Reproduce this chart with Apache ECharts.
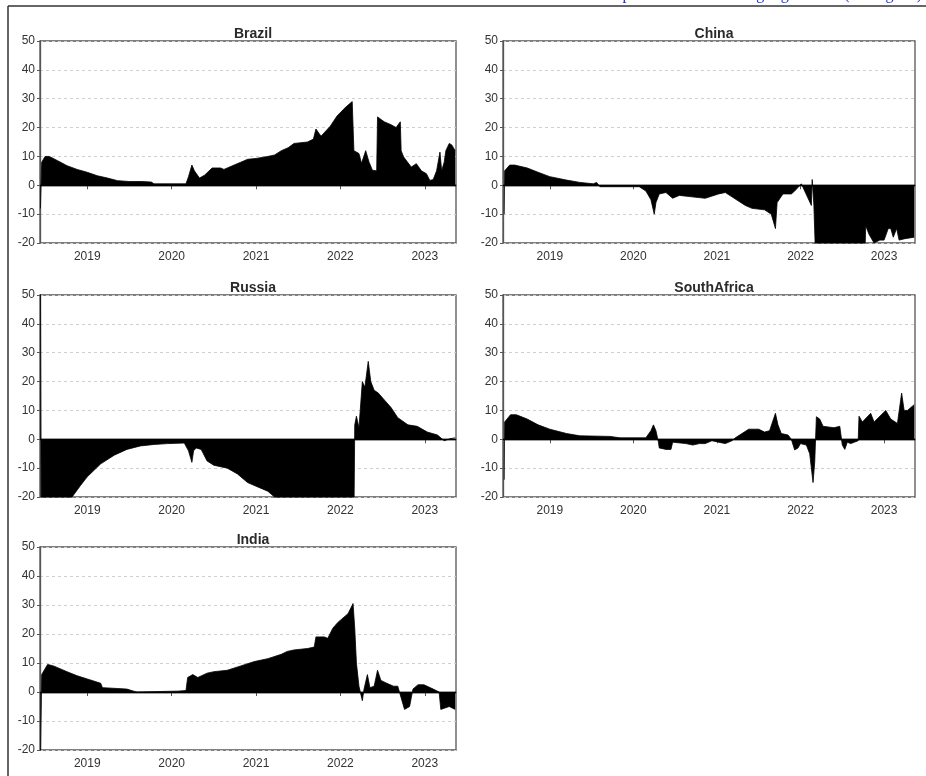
<!DOCTYPE html>
<html>
<head>
<meta charset="utf-8">
<script src="https://cdn.jsdelivr.net/npm/echarts@6/dist/echarts.min.js"></script>
<style>
  html, body { margin: 0; padding: 0; background: #fff; }
  #main { width: 926px; height: 776px; }
</style>
</head>
<body>
<div id="main"></div>
<script>
// [year, value] pairs
var brazil = [
  [2018.445, -8], [2018.46, 8], [2018.5, 10], [2018.55, 10], [2018.65, 8.5], [2018.76, 6.8],
  [2018.88, 5.5], [2019.0, 4.5], [2019.12, 3.3], [2019.24, 2.5], [2019.36, 1.6], [2019.5, 1.3],
  [2019.65, 1.3], [2019.76, 1.1], [2019.79, 0.5], [2020.17, 0.5], [2020.2, 3], [2020.24, 7],
  [2020.27, 5], [2020.33, 2.5], [2020.39, 3.5], [2020.48, 6], [2020.58, 6], [2020.62, 5.5],
  [2020.74, 7], [2020.82, 8], [2020.9, 9], [2021.0, 9.3], [2021.14, 10], [2021.22, 10.5],
  [2021.3, 12], [2021.38, 13], [2021.45, 14.5], [2021.61, 15], [2021.68, 16], [2021.71, 19.5],
  [2021.77, 17], [2021.88, 20.5], [2021.96, 24], [2022.06, 27], [2022.14, 29], [2022.16, 12],
  [2022.22, 11], [2022.25, 7.6], [2022.3, 12], [2022.34, 8], [2022.38, 5.2], [2022.43, 5],
  [2022.44, 23.7], [2022.52, 22], [2022.6, 21], [2022.66, 20], [2022.71, 22], [2022.72, 12],
  [2022.75, 9.8], [2022.84, 6.3], [2022.9, 7.5], [2022.96, 5], [2023.02, 4], [2023.06, 1.7],
  [2023.1, 2], [2023.14, 5], [2023.18, 11.5], [2023.2, 5], [2023.23, 8], [2023.25, 12],
  [2023.29, 14.5], [2023.32, 14], [2023.36, 12]
];
var china = [
  [2018.455, -10], [2018.46, 5], [2018.52, 7], [2018.58, 7], [2018.73, 6], [2018.86, 4.5],
  [2019.0, 3], [2019.2, 1.8], [2019.36, 1], [2019.52, 0.5], [2019.56, 1], [2019.6, -0.5],
  [2020.07, -0.5], [2020.15, -2], [2020.21, -5], [2020.25, -10], [2020.27, -6], [2020.31, -3],
  [2020.39, -2.5], [2020.47, -4.5], [2020.55, -3.5], [2020.7, -4], [2020.86, -4.5], [2021.02, -3],
  [2021.1, -2.5], [2021.18, -4], [2021.34, -7], [2021.42, -8], [2021.57, -8.5], [2021.65, -10],
  [2021.7, -15], [2021.72, -6], [2021.79, -3], [2021.89, -3], [2021.93, -2], [2022.01, 0.5],
  [2022.05, -2], [2022.13, -7], [2022.14, 2], [2022.16, -7], [2022.18, -25], [2022.77, -25],
  [2022.78, -14], [2022.82, -17], [2022.88, -20], [2022.95, -19], [2023.0, -19], [2023.05, -15],
  [2023.08, -15], [2023.11, -18], [2023.15, -15], [2023.18, -19], [2023.25, -18.5], [2023.36, -18]
];
var russia = [
  [2018.445, 60], [2018.455, -30], [2018.8, -30], [2018.82, -20], [2018.92, -16], [2019.0, -13],
  [2019.16, -8.5], [2019.32, -5.5], [2019.47, -3.5], [2019.63, -2.3], [2019.79, -1.8], [2019.95, -1.5],
  [2020.15, -1.3], [2020.2, -4], [2020.24, -8], [2020.26, -4], [2020.29, -3], [2020.35, -3.5],
  [2020.42, -7.5], [2020.5, -9], [2020.66, -10], [2020.78, -12], [2020.9, -15], [2021.02, -16.5],
  [2021.14, -18], [2021.22, -20], [2021.25, -30], [2022.16, -30], [2022.17, 5], [2022.19, 8],
  [2022.22, 4], [2022.26, 20], [2022.29, 18], [2022.33, 27], [2022.36, 20], [2022.4, 17],
  [2022.45, 16], [2022.51, 14], [2022.6, 11], [2022.68, 7.5], [2022.8, 5], [2022.91, 4.5],
  [2023.03, 2.5], [2023.15, 1.5], [2023.23, -0.5], [2023.3, 0.2], [2023.36, 0.5]
];
var southAfrica = [
  [2018.455, -14], [2018.46, 6], [2018.53, 8.5], [2018.6, 8.5], [2018.73, 7], [2018.86, 5],
  [2019.0, 3.5], [2019.2, 2], [2019.36, 1.2], [2019.72, 1], [2019.84, 0.5], [2020.15, 0.5],
  [2020.21, 3], [2020.24, 5], [2020.27, 3], [2020.3, -1], [2020.31, -3], [2020.39, -3.5],
  [2020.45, -3.5], [2020.47, -1], [2020.63, -1.5], [2020.71, -2], [2020.79, -1.5], [2020.86, -1.5],
  [2020.94, -0.5], [2021.02, -1], [2021.1, -1.5], [2021.18, -0.5], [2021.22, 0.5], [2021.3, 2],
  [2021.38, 3.5], [2021.5, 3.5], [2021.57, 2.5], [2021.63, 3], [2021.7, 9], [2021.73, 5],
  [2021.77, 2], [2021.85, 1.5], [2021.89, 0], [2021.93, -3.7], [2021.97, -3], [2022.0, -1.5],
  [2022.07, -2], [2022.11, -5], [2022.15, -15], [2022.17, -8], [2022.19, 7.8], [2022.23, 7],
  [2022.27, 4.5], [2022.4, 4], [2022.47, 4.5], [2022.5, -2], [2022.53, -3.5], [2022.56, -1],
  [2022.6, -1.5], [2022.69, -0.5], [2022.7, 8], [2022.74, 6], [2022.84, 9], [2022.88, 6],
  [2023.02, 10], [2023.08, 7], [2023.16, 5.5], [2023.21, 16], [2023.24, 10], [2023.28, 10],
  [2023.32, 11], [2023.36, 12]
];
var india = [
  [2018.445, -25], [2018.46, 6], [2018.53, 9.5], [2018.6, 9], [2018.76, 7], [2018.88, 5.6],
  [2019.0, 4.5], [2019.16, 3], [2019.18, 1.5], [2019.36, 1.2], [2019.47, 1], [2019.55, 0.3],
  [2019.59, 0], [2020.07, 0.3], [2020.17, 0.5], [2020.19, 5], [2020.25, 6], [2020.31, 5],
  [2020.42, 6.5], [2020.5, 7], [2020.66, 7.5], [2020.82, 9], [2020.98, 10.5], [2021.14, 11.5],
  [2021.3, 13], [2021.37, 14], [2021.45, 14.5], [2021.61, 15], [2021.69, 15.5], [2021.71, 19],
  [2021.81, 19], [2021.85, 18.5], [2021.91, 22], [2021.97, 24], [2022.09, 27], [2022.15, 30.5],
  [2022.17, 22], [2022.19, 10], [2022.22, 2], [2022.26, -3], [2022.28, 1], [2022.32, 6],
  [2022.35, 1.5], [2022.4, 2], [2022.44, 7.5], [2022.48, 4], [2022.55, 3], [2022.63, 2],
  [2022.68, 2], [2022.71, -1], [2022.76, -6], [2022.82, -5], [2022.84, -2], [2022.86, 1],
  [2022.92, 2.5], [2022.99, 2.5], [2023.1, 1], [2023.17, 0], [2023.19, -6], [2023.29, -5],
  [2023.36, -6]
];

var panelNames = ['Brazil', 'China', 'Russia', 'SouthAfrica', 'India'];
var panelData = [brazil, china, russia, southAfrica, india];
var yearTicks = [2019, 2020, 2021, 2022, 2023];

// plot boxes (px)
var boxes = [
  { left: 40, top: 41, width: 416, height: 202 },
  { left: 503, top: 41, width: 412, height: 202 },
  { left: 40, top: 295, width: 416, height: 202 },
  { left: 503, top: 295, width: 412, height: 202 },
  { left: 40, top: 547, width: 416, height: 203 }
];

var font = 'Liberation Sans, Arial, sans-serif';
var frameColor = '#555';

var grid = [], xAxis = [], yAxis = [], series = [], title = [];

boxes.forEach(function (b, i) {
  grid.push({
    left: b.left, top: b.top, width: b.width, height: b.height,
    show: true, borderColor: frameColor, borderWidth: 1.3, backgroundColor: '#fff'
  });
  title.push({
    text: panelNames[i],
    left: b.left + b.width / 2, top: b.top - 19, textAlign: 'center',
    textStyle: { fontFamily: font, fontSize: 14, fontWeight: 'bold', color: '#2a2a2a' }
  });
  xAxis.push({
    type: 'value', gridIndex: i, min: 2018.44, max: 2023.37,
    axisLine: { lineStyle: { color: frameColor, width: 1.3 } },
    axisTick: { show: true, length: 4, customValues: yearTicks, lineStyle: { color: frameColor } },
    axisLabel: {
      customValues: yearTicks, margin: 8,
      fontFamily: font, fontSize: 12, color: '#333',
      formatter: function (v) { return String(Math.round(v)); }
    },
    splitLine: { show: false }
  });
  yAxis.push({
    type: 'value', gridIndex: i, min: -20, max: 50, interval: 10,
    axisLine: { show: true, lineStyle: { color: frameColor, width: 1.3 } },
    axisTick: { show: true, length: 3, lineStyle: { color: frameColor } },
    axisLabel: { margin: 5, fontFamily: font, fontSize: 12, color: '#333' },
    splitLine: { show: true, lineStyle: { color: '#cfcfcf', type: [3, 3], width: 1 } }
  });
  series.push({
    type: 'line', xAxisIndex: i, yAxisIndex: i,
    data: panelData[i],
    showSymbol: false, animation: false, clip: true,
    lineStyle: { color: '#000', width: 0.8 },
    areaStyle: { color: '#000', opacity: 1, origin: 0 },
    markLine: {
      silent: true, symbol: 'none', label: { show: false },
      lineStyle: { color: '#000', type: 'solid', width: 1.3 },
      data: [{ yAxis: 0 }]
    }
  });
});

var chart = echarts.init(document.getElementById('main'));
chart.setOption({
  backgroundColor: '#fff',
  animation: false,
  title: title,
  grid: grid,
  xAxis: xAxis,
  yAxis: yAxis,
  series: series,
  graphic: [
    { type: 'line', shape: { x1: 8, y1: 6, x2: 926, y2: 6 }, style: { stroke: '#333', lineWidth: 1.5 } },
    { type: 'line', shape: { x1: 8, y1: 6, x2: 8, y2: 776 }, style: { stroke: '#333', lineWidth: 1.5 } },
    {
      type: 'text', right: 4, top: -13,
      style: { text: 'p-values of the rolling regressions (see legend)', fill: '#2233dd', font: '16px Liberation Serif' }
    }
  ]
});
</script>
</body>
</html>
